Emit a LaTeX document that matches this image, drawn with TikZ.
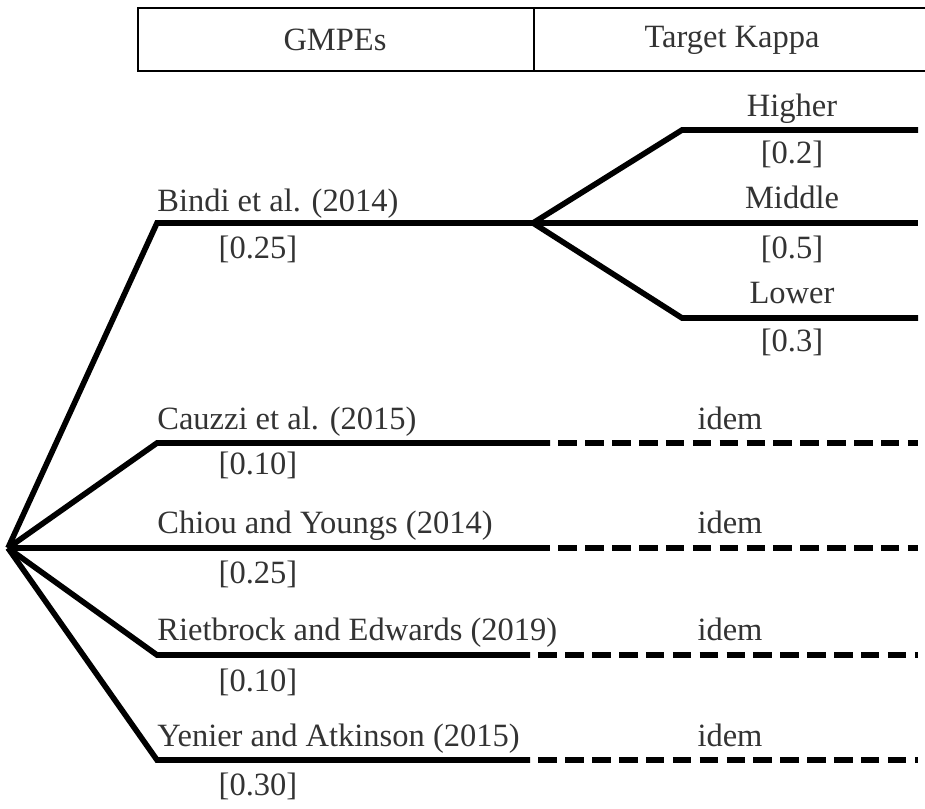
\documentclass[tikz,border=0pt]{standalone}
\usepackage{fontspec}
\setmainfont{Liberation Serif}
\usetikzlibrary{positioning}
\definecolor{CText}{HTML}{333333}
\definecolor{CLine}{HTML}{000000}

\tikzset{
    branch/.style={line width=3.2pt, draw=CLine, line join=miter},
    branchdash/.style={branch, dash pattern=on 10.5pt off 4.8pt, shorten <=4.8pt},
    lbl/.style={font=\fontsize{18.5}{22}\selectfont, text=CText, inner sep=0pt},
    gmpe/.style={lbl, anchor=base west},
    wgt/.style={lbl, anchor=base},
}

\begin{document}
\begin{tikzpicture}[x=0.02cm, y=-0.02cm]
    \useasboundingbox (0,0) rectangle (925,808);

    % Header
    \draw[line width=1.3pt, CLine] (925,8) -- (138,8) -- (138,71) -- (925,71);
    \draw[line width=1.3pt, CLine] (534,8) -- (534,71);
    \node[lbl] (hgmpe) at (335,40) {GMPEs};
    \node[lbl] (hkappa) at (732,40) {Target Kappa};

    % Branch points
    \coordinate (root) at (8,548);
    \coordinate (b0) at (157,223);  \coordinate (b1) at (533,223);
    \coordinate (kh0) at (682,130); \coordinate (kh1) at (918,130);
    \coordinate (km1) at (918,223);
    \coordinate (kl0) at (682,318); \coordinate (kl1) at (918,318);
    \coordinate (c0) at (157,443);  \coordinate (c1) at (550,443);  \coordinate (c2) at (918,443);
    \coordinate (y1) at (550,548);  \coordinate (y2) at (918,548);
    \coordinate (r0) at (157,655);  \coordinate (r1) at (530,655);  \coordinate (r2) at (918,655);
    \coordinate (a0) at (157,760);  \coordinate (a1) at (530,760);  \coordinate (a2) at (918,760);

    % Bindi and its kappa branches
    \draw[branch] (root) -- (b0) -- (b1);
    \draw[branch] (b1) -- (kh0) -- (kh1);
    \draw[branch] (b1) -- (km1);
    \draw[branch] (b1) -- (kl0) -- (kl1);
    \node[gmpe] (nbindi) at (157,211) {Bindi et al. (2014)};
    \node[wgt] (wbindi) at (258,258) {[0.25]};
    \node[wgt] (nhigh) at (792,116) {Higher};
    \node[wgt] (whigh) at (792,163) {[0.2]};
    \node[wgt] (nmid) at (792,208) {Middle};
    \node[wgt] (wmid) at (792,258) {[0.5]};
    \node[wgt] (nlow) at (792,303) {Lower};
    \node[wgt] (wlow) at (792,351) {[0.3]};

    % Cauzzi
    \draw[branch] (root) -- (c0) -- (c1);
    \draw[branchdash] (c1) -- (c2);
    \node[gmpe] (ncauzzi) at (157,429) {Cauzzi et al. (2015)};
    \node[wgt] (wcauzzi) at (258,474) {[0.10]};
    \node[wgt] (icauzzi) at (730,429) {idem};

    % Chiou
    \draw[branch] (root) -- (y1);
    \draw[branchdash] (y1) -- (y2);
    \node[gmpe] (nchiou) at (157,533) {Chiou and Youngs (2014)};
    \node[wgt] (wchiou) at (258,583) {[0.25]};
    \node[wgt] (ichiou) at (730,533) {idem};

    % Rietbrock
    \draw[branch] (root) -- (r0) -- (r1);
    \draw[branchdash] (r1) -- (r2);
    \node[gmpe] (nriet) at (157,640) {Rietbrock and Edwards (2019)};
    \node[wgt] (wriet) at (258,691) {[0.10]};
    \node[wgt] (iriet) at (730,640) {idem};

    % Yenier
    \draw[branch] (root) -- (a0) -- (a1);
    \draw[branchdash] (a1) -- (a2);
    \node[gmpe] (nyenier) at (157,746) {Yenier and Atkinson (2015)};
    \node[wgt] (wyenier) at (258,795) {[0.30]};
    \node[wgt] (iyenier) at (730,746) {idem};
\end{tikzpicture}
\end{document}
